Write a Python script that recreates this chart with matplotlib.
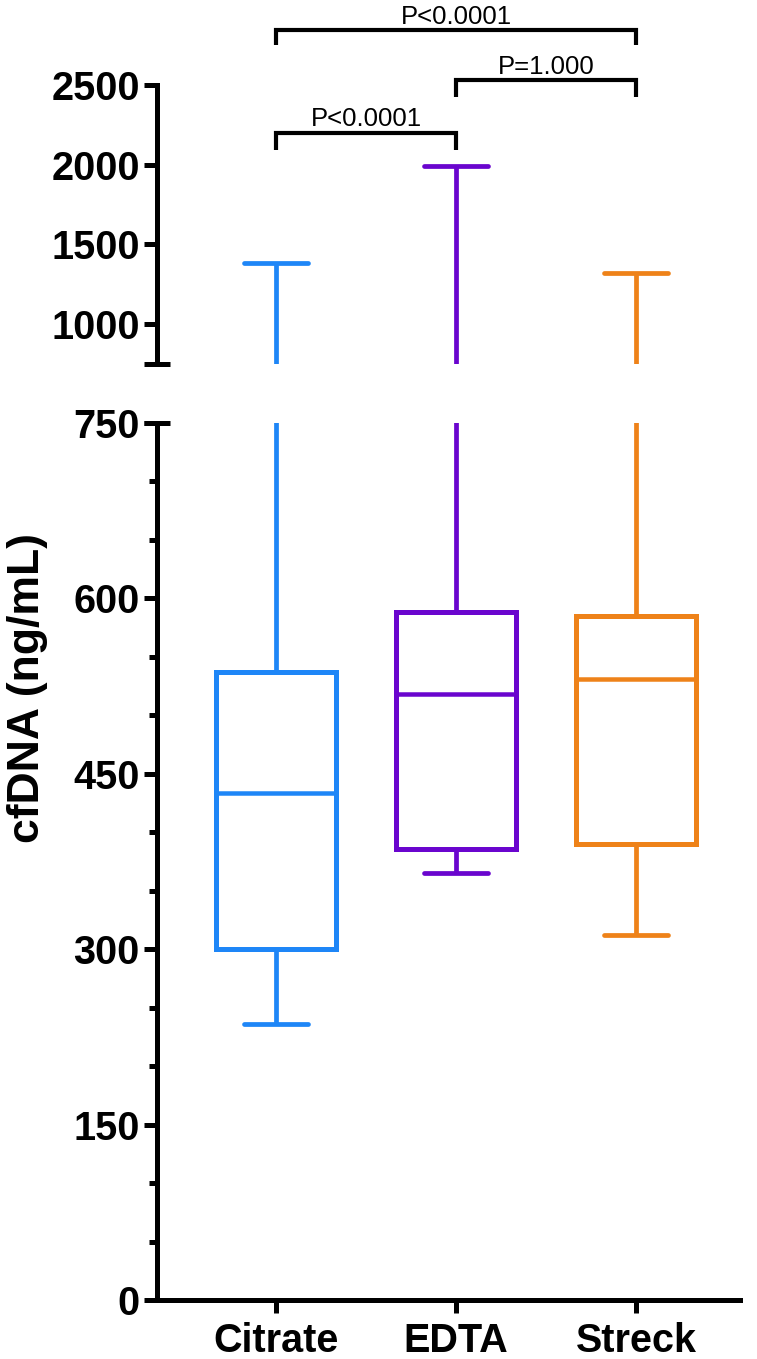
import matplotlib
matplotlib.use("Agg")
import matplotlib.pyplot as plt
import matplotlib.transforms as mtransforms
from matplotlib.ticker import MultipleLocator, FixedLocator

# ---- data ----
categories = ["Citrate", "EDTA", "Streck"]
whislo = [236, 365, 312]
q1 = [300, 386, 390]
med = [434, 518, 531]
q3 = [537, 588, 585]
whishi = [1384, 1990, 1319]
colors = ["#1E86F7", "#6A05CE", "#EE8219"]

lower_ticks = [0, 150, 300, 450, 600, 750]
upper_ticks = [1000, 1500, 2000, 2500]

bracket_pairs = [(0, 1), (1, 2), (0, 2)]
bracket_top = [2200, 2530, 2846]
bracket_drop = [2094, 2422, 2750]
bracket_text = ["P<0.0001", "P=1.000", "P<0.0001"]

ylabel = "cfDNA (ng/mL)"

# ---- style ----
FONT = "Liberation Sans"
plt.rcParams['font.family'] = [FONT, 'DejaVu Sans']
W, H = 757, 1359
fig = plt.figure(figsize=(W / 100, H / 100), dpi=100)

left_px, right_px = 157, 740
low_bot_px, low_top_px = 1300, 423
up_bot_px, up_top_px = 363.5, 85

ax_lo = fig.add_axes([left_px / W, 1 - low_bot_px / H, (right_px - left_px) / W,
                      (low_bot_px - low_top_px) / H])
ax_up = fig.add_axes([left_px / W, 1 - up_bot_px / H, (right_px - left_px) / W,
                      (up_bot_px - up_top_px) / H])

LW = 3.6
positions = list(range(len(categories)))
stats = [dict(whislo=a, q1=b, med=c, q3=d, whishi=e, label=n)
         for a, b, c, d, e, n in zip(whislo, q1, med, q3, whishi, categories)]

for ax in (ax_lo, ax_up):
    art = ax.bxp(stats, positions=positions, widths=0.667, capwidths=0.356,
                 showfliers=False, patch_artist=False)
    for i, col in enumerate(colors):
        b = art['boxes'][i]
        b.set_color(col); b.set_linewidth(LW); b.set_solid_joinstyle('miter')
        m = art['medians'][i]
        m.set_color(col); m.set_linewidth(LW * 0.9); m.set_solid_capstyle('butt')
        for w in art['whiskers'][2 * i:2 * i + 2]:
            w.set_color(col); w.set_linewidth(LW * 0.95); w.set_solid_capstyle('butt')
        for c in art['caps'][2 * i:2 * i + 2]:
            c.set_color(col); c.set_linewidth(LW * 0.95); c.set_solid_capstyle('round')
    ax.set_xlim(-0.661, 2.578)
    for s in ('top', 'right'):
        ax.spines[s].set_visible(False)
    ax.spines['left'].set_linewidth(LW)
    ax.tick_params(axis='y', which='major', length=9.4, width=LW, direction='out',
                   labelsize=28, pad=3)
    for lab in ax.get_yticklabels():
        lab.set_fontweight('bold')

# lower axis
ax_lo.set_ylim(0, 750)
ax_lo.yaxis.set_major_locator(FixedLocator(lower_ticks))
ax_lo.yaxis.set_minor_locator(MultipleLocator(50))
ax_lo.tick_params(axis='y', which='minor', length=5.8, width=LW, direction='out')
ax_lo.spines['bottom'].set_linewidth(LW)
ax_lo.spines['left'].set_capstyle('projecting')
ax_lo.spines['bottom'].set_capstyle('projecting')
ax_lo.set_xticks(positions)
ax_lo.set_xticklabels(categories, fontsize=28.5, fontweight='bold')
ax_lo.tick_params(axis='x', length=9, width=LW, direction='out', pad=7)
ax_lo.set_yticklabels([str(t) for t in lower_ticks], fontsize=28.5, fontweight='bold')

# upper axis
ax_up.set_ylim(750, 2500)
ax_up.yaxis.set_major_locator(FixedLocator(upper_ticks))
ax_up.set_yticklabels([str(t) for t in upper_ticks], fontsize=28.5, fontweight='bold')
ax_up.spines['bottom'].set_visible(False)
ax_up.set_xticks([])
ax_up.patch.set_alpha(0)

# break caps (T marks) at 750 on both segments
cap_frac = 13 / (right_px - left_px)
for ax in (ax_lo, ax_up):
    tr = mtransforms.blended_transform_factory(ax.transAxes, ax.transData)
    ax.plot([-cap_frac, cap_frac], [750, 750], transform=tr, color='black',
            lw=LW, clip_on=False, solid_capstyle='butt')

# significance brackets
for (a, b), yt, yd, txt in zip(bracket_pairs, bracket_top, bracket_drop, bracket_text):
    ax_up.plot([a, a, b, b], [yd, yt, yt, yd], color='black', lw=3.0,
               clip_on=False, solid_joinstyle='miter', solid_capstyle='butt')
    ax_up.text((a + b) / 2, yt + 40, txt, ha='center', va='baseline',
               fontsize=18.5, clip_on=False)

fig.text(28 / W, 1 - 688 / H, ylabel, rotation=90, ha='center', va='center',
         fontsize=32, fontweight='bold')

fig.savefig("out.png", dpi=100)
